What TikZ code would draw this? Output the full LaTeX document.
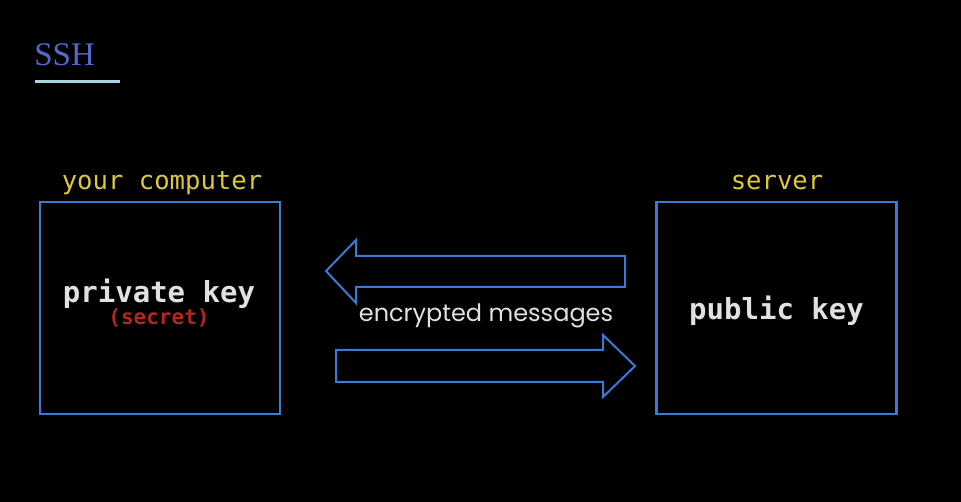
\documentclass[tikz,border=0pt]{standalone}
\usepackage{fontspec}
\setmainfont{Liberation Serif}
\setsansfont{Poppins}
\setmonofont{DejaVu Sans Mono}
\usetikzlibrary{positioning}
\definecolor{bgblack}{RGB}{0,0,0}
\definecolor{boxblue}{RGB}{58,122,212}
\definecolor{titleblue}{RGB}{84,104,206}
\definecolor{rulecyan}{RGB}{172,212,222}
\definecolor{labelyellow}{RGB}{222,200,60}
\definecolor{secretred}{RGB}{178,40,30}
\definecolor{textgray}{RGB}{225,225,225}
\begin{document}
\begin{tikzpicture}[x=1pt, y=-1pt, thick,
    main/.style = {draw=boxblue, line width=2.5pt, rectangle, minimum width=240pt, minimum height=212pt, inner sep=0pt},
    caption/.style = {text=labelyellow, anchor=base, inner sep=0pt, font=\ttfamily\fontsize{25.6}{25.6}\selectfont},
    keytext/.style = {text=textgray, font=\ttfamily\bfseries\fontsize{29}{29}\selectfont},
    blockarrow/.style = {draw=boxblue, line width=2pt, line join=miter}]
    \fill[bgblack] (0,0) rectangle (961,502);
    \useasboundingbox (0,0) rectangle (961,502);
    % title
    \node[anchor=base west, inner sep=0pt, text=titleblue, font=\fontsize{33}{33}\selectfont] (title) at (34,66) {SSH};
    \draw[rulecyan, line width=3pt] (35,82) -- (120,82);
    % the two machines
    \node[main] (1) at (160,308) {};
    \node[main] (2) at (776.5,308) {};
    \node[caption] (1cap) at (162,190) {your computer};
    \node[caption] (2cap) at (777,190) {server};
    \node[keytext] (1key) at (159,294) {private key};
    \node[text=secretred, font=\ttfamily\bfseries\fontsize{21}{21}\selectfont, below=-8pt of 1key] (1sec) {(secret)};
    \node[keytext] (2key) at (776.5,311) {public key};
    % encrypted messages
    \draw[blockarrow] (625,256) -- (356,256) -- (356,240) -- (326,271) -- (356,303) -- (356,287) -- (625,287) -- cycle;
    \draw[blockarrow] (336,350) -- (603,350) -- (603,335) -- (635,366) -- (603,397) -- (603,382) -- (336,382) -- cycle;
    \node[text=textgray, font=\sffamily\fontsize{24}{24}\selectfont] (msg) at (486,316) {encrypted messages};
\end{tikzpicture}
\end{document}
